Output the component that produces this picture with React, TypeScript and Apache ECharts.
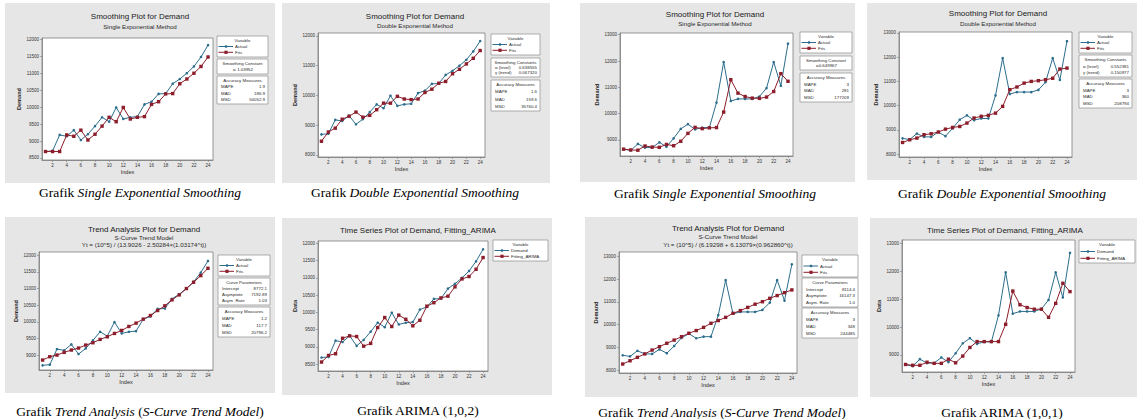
import React, { useEffect, useRef } from "react";
import * as echarts from "echarts";

// Period index shared by every panel
const periods = [1, 2, 3, 4, 5, 6, 7, 8, 9, 10, 11, 12, 13, 14, 15, 16, 17, 18, 19, 20, 21, 22, 23, 24];

// Left pair of studies: demand and the fitted values of each method
const demandLeft = [8690, 8710, 9180, 9140, 9320, 9030, 9200, 9440, 9700, 9570, 9990, 9650, 9700, 9720, 10080, 10160, 10390, 10400, 10690, 10830, 11000, 11200, 11480, 11830];
const singleFitsLeft = [8690, 8690, 8690, 9180, 9140, 9320, 9030, 9200, 9440, 9700, 9570, 9990, 9650, 9700, 9720, 10080, 10160, 10390, 10400, 10690, 10830, 11000, 11200, 11480];
const doubleFitsLeft = [8460, 8770, 8900, 9200, 9300, 9440, 9270, 9330, 9520, 9740, 9740, 9970, 9880, 9860, 9880, 10100, 10210, 10410, 10470, 10730, 10880, 11060, 11250, 11510];
const trendFitsLeft = [8850, 8950, 9000, 9080, 9150, 9210, 9300, 9370, 9470, 9550, 9650, 9740, 9860, 9960, 10080, 10190, 10340, 10480, 10660, 10810, 11000, 11190, 11390, 11610];
const arimaFitsLeft = [8560, 8750, 8800, 9250, 9320, 9300, 9020, 9100, 9560, 9850, 9590, 9920, 9800, 9610, 9770, 10180, 10280, 10420, 10470, 10740, 10970, 11040, 11250, 11590];

// Right pair of studies: demand and the fitted values of each method
const demandRight = [8650, 8600, 8850, 8710, 8710, 8910, 8740, 9060, 9420, 9600, 9400, 9470, 9470, 10420, 11960, 10480, 10560, 10560, 10560, 10650, 10970, 11960, 11060, 12660];
const singleFitsRight = [8650, 8620, 8610, 8770, 8730, 8720, 8830, 8780, 8950, 9250, 9480, 9430, 9460, 9470, 10060, 11290, 10780, 10650, 10590, 10580, 10630, 10840, 11520, 11230];
const doubleFitsRight = [8480, 8590, 8660, 8800, 8840, 8910, 9030, 9100, 9140, 9280, 9490, 9560, 9600, 9690, 9970, 10660, 10770, 10930, 11000, 11030, 11070, 11130, 11510, 11550];
const trendFitsRight = [8265, 8410, 8560, 8710, 8880, 9030, 9180, 9320, 9470, 9620, 9740, 9880, 10060, 10180, 10320, 10500, 10620, 10760, 10900, 11010, 11160, 11280, 11410, 11530];
const arimaFitsRight = [8660, 8630, 8630, 8740, 8700, 8700, 8850, 8720, 8960, 9270, 9480, 9480, 9480, 9480, 10100, 11290, 10800, 10700, 10640, 10640, 10350, 10850, 11570, 11270];

// Side tables: smoothing constants, curve parameters and accuracy measures
const smoothingSingleLeft = [["α", "1.03952"]];
const accuracySingleLeft = [["MAPE", "1.9"], ["MAD", "186.9"], ["MSD", "54052.9"]];
const smoothingDoubleLeft = [["α (level)", "0.638555"], ["γ (trend)", "0.067320"]];
const accuracyDoubleLeft = [["MAPE", "1.6"], ["MAD", "159.6"], ["MSD", "35760.4"]];
const curveLeft = [["Intercept", "8772.1"], ["Asymptote", "7192.89"], ["Asym. Rate", "1.03"]];
const accuracyTrendLeft = [["MAPE", "1.2"], ["MAD", "117.7"], ["MSD", "20796.2"]];
const smoothingSingleRight = [["α", "0.649967"]];
const accuracySingleRight = [["MAPE", "3"], ["MAD", "281"], ["MSD", "177209"]];
const smoothingDoubleRight = [["α (level)", "0.552381"], ["γ (trend)", "0.150977"]];
const accuracyDoubleRight = [["MAPE", "3"], ["MAD", "360"], ["MSD", "208794"]];
const curveRight = [["Intercept", "8114.4"], ["Asymptote", "16147.3"], ["Asym. Rate", "1.0"]];
const accuracyTrendRight = [["MAPE", "3"], ["MAD", "348"], ["MSD", "244485"]];

const SANS = '"Liberation Sans", Arial, sans-serif';
const SERIF = '"Liberation Serif", "Times New Roman", serif';
const PANEL_BG = "#e6e6e6";
const FRAME = "#7d7d7d";
const INK = "#2a2a2a";
const ACTUAL = "#2c6d8c";
const FITS = "#8c1d2b";
const X_RANGE = [0.5, 24.7];

type Rect = { x: number; y: number; w: number; h: number };
type Box = Rect & { header?: string; rows?: string[][]; legend?: boolean; inset?: number };
type Panel = {
  bg: Rect;
  grid: Rect;
  y: [number, number, number];
  yName: string;
  titleX: number;
  titles: [string, number, number][];
  actual: number[];
  fits: number[];
  names: [string, string];
  boxes: Box[];
  caption: { x: number; y: number; text: string };
};

const SMOOTH_TITLE = "Smoothing Plot for Demand";
const TREND_TITLE = "Trend Analysis Plot for Demand";
const ARIMA_TITLE = "Time Series Plot of Demand, Fitting_ARIMA";

const panels: Panel[] = [
  {
    bg: { x: 5, y: 3, w: 270, h: 180 },
    grid: { x: 42, y: 38, w: 171, h: 122 },
    y: [8440, 12040, 500],
    yName: "Demand",
    titleX: 140,
    titles: [[SMOOTH_TITLE, 16.5, 8], ["Single Exponential Method", 26.5, 6.2]],
    actual: demandLeft,
    fits: singleFitsLeft,
    names: ["Actual", "Fits"],
    boxes: [
      { x: 217, y: 36, w: 51, h: 21, header: "Variable", legend: true },
      { x: 217, y: 59, w: 51, h: 15, header: "Smoothing Constant", rows: smoothingSingleLeft, inset: 12 },
      { x: 217, y: 76, w: 51, h: 28, header: "Accuracy Measures", rows: accuracySingleLeft },
    ],
    caption: { x: 140, y: 192, text: "{n|Grafik }{i|Single Exponential Smoothing}" },
  },
  {
    bg: { x: 282, y: 3, w: 268, h: 180 },
    grid: { x: 318, y: 33, w: 167, h: 124 },
    y: [7930, 12100, 1000],
    yName: "Demand",
    titleX: 415,
    titles: [[SMOOTH_TITLE, 16, 8], ["Double Exponential Method", 25.5, 6.2]],
    actual: demandLeft,
    fits: doubleFitsLeft,
    names: ["Actual", "Fits"],
    boxes: [
      { x: 491, y: 34, w: 49, h: 21, header: "Variable", legend: true },
      { x: 491, y: 58, w: 49, h: 19, header: "Smoothing Constants", rows: smoothingDoubleLeft },
      { x: 491, y: 80, w: 49, h: 31, header: "Accuracy Measures", rows: accuracyDoubleLeft },
    ],
    caption: { x: 415, y: 192, text: "{n|Grafik }{i|Double Exponential Smoothing}" },
  },
  {
    bg: { x: 580, y: 3, w: 275, h: 179 },
    grid: { x: 620, y: 33, w: 173, h: 123 },
    y: [8390, 13065, 1000],
    yName: "Demand",
    titleX: 715,
    titles: [[SMOOTH_TITLE, 14, 8], ["Single Exponential Method", 23.5, 6.2]],
    actual: demandRight,
    fits: singleFitsRight,
    names: ["Actual", "Fits"],
    boxes: [
      { x: 800, y: 32, w: 52, h: 21, header: "Variable", legend: true },
      { x: 800, y: 56, w: 52, h: 14, header: "Smoothing Constant", rows: smoothingSingleRight, inset: 12 },
      { x: 800, y: 73, w: 52, h: 29, header: "Accuracy Measures", rows: accuracySingleRight },
    ],
    caption: { x: 715, y: 193, text: "{n|Grafik }{i|Single Exponential Smoothing}" },
  },
  {
    bg: { x: 867, y: 3, w: 270, h: 177 },
    grid: { x: 899, y: 32, w: 173, h: 125 },
    y: [7880, 13040, 1000],
    yName: "Demand",
    titleX: 998,
    titles: [[SMOOTH_TITLE, 13.5, 8], ["Double Exponential Method", 23.5, 6.2]],
    actual: demandRight,
    fits: doubleFitsRight,
    names: ["Actual", "Fits"],
    boxes: [
      { x: 1079, y: 32, w: 53, h: 21, header: "Variable", legend: true },
      { x: 1079, y: 55, w: 53, h: 22, header: "Smoothing Constants", rows: smoothingDoubleRight },
      { x: 1079, y: 79, w: 53, h: 29, header: "Accuracy Measures", rows: accuracyDoubleRight },
    ],
    caption: { x: 1002, y: 193, text: "{n|Grafik }{i|Double Exponential Smoothing}" },
  },
  {
    bg: { x: 5, y: 217, w: 270, h: 176 },
    grid: { x: 39, y: 252, w: 174, h: 118 },
    y: [8550, 12100, 500],
    yName: "Demand",
    titleX: 144,
    titles: [
      [TREND_TITLE, 229, 8],
      ["S-Curve Trend Model", 237, 6.2],
      ["Yt = (10^5) / (13.9026 - 2.50284×(1.03174^t))", 244.5, 6.2],
    ],
    actual: demandLeft,
    fits: trendFitsLeft,
    names: ["Actual", "Fits"],
    boxes: [
      { x: 218, y: 255, w: 52, h: 21, header: "Variable", legend: true },
      { x: 218, y: 278, w: 52, h: 27, header: "Curve Parameters", rows: curveLeft },
      { x: 218, y: 307, w: 52, h: 30, header: "Accuracy Measures", rows: accuracyTrendLeft },
    ],
    caption: { x: 140, y: 411, text: "{n|Grafik }{i|Trend Analysis}{n| (}{i|S-Curve Trend Model}{n|)}" },
  },
  {
    bg: { x: 282, y: 218, w: 270, h: 177 },
    grid: { x: 318, y: 241, w: 170, h: 130 },
    y: [8300, 12070, 500],
    yName: "Data",
    titleX: 418,
    titles: [[ARIMA_TITLE, 230, 8]],
    actual: demandLeft,
    fits: arimaFitsLeft,
    names: ["Demand", "Fitting_ARIMA"],
    boxes: [{ x: 493, y: 240, w: 55, h: 21, header: "Variable", legend: true }],
    caption: { x: 418, y: 410, text: "{n|Grafik ARIMA (1,0,2)}" },
  },
  {
    bg: { x: 585, y: 217, w: 273, h: 180 },
    grid: { x: 619, y: 252, w: 178, h: 121 },
    y: [7870, 13200, 1000],
    yName: "Demand",
    titleX: 728,
    titles: [
      [TREND_TITLE, 228, 8],
      ["S-Curve Trend Model", 236, 6.2],
      ["Yt = (10^5) / (6.19298 + 6.13079×(0.962860^t))", 244, 6.2],
    ],
    actual: demandRight,
    fits: trendFitsRight,
    names: ["Actual", "Fits"],
    boxes: [
      { x: 802, y: 255, w: 56, h: 22, header: "Variable", legend: true },
      { x: 802, y: 278, w: 56, h: 29, header: "Curve Parameters", rows: curveRight },
      { x: 802, y: 308, w: 56, h: 30, header: "Accuracy Measures", rows: accuracyTrendRight },
    ],
    caption: { x: 722, y: 412, text: "{n|Grafik }{i|Trend Analysis}{n| (}{i|S-Curve Trend Model}{n|)}" },
  },
  {
    bg: { x: 870, y: 218, w: 267, h: 179 },
    grid: { x: 902, y: 240, w: 173, h: 132 },
    y: [8390, 13120, 1000],
    yName: "Data",
    titleX: 1005,
    titles: [[ARIMA_TITLE, 230, 8]],
    actual: demandRight,
    fits: arimaFitsRight,
    names: ["Demand", "Fitting_ARIMA"],
    boxes: [{ x: 1079, y: 240, w: 56, h: 23, header: "Variable", legend: true }],
    caption: { x: 1002, y: 412, text: "{n|Grafik ARIMA (1,0,1)}" },
  },
];

const TABLE_FONT = 4.4;

function textEl(text: string, x: number, y: number, size: number, align: string, extra: any = {}) {
  return {
    type: "text",
    z: 20,
    silent: true,
    style: {
      text,
      x,
      y,
      textAlign: align,
      textVerticalAlign: "middle",
      fontSize: size,
      fontFamily: SANS,
      fill: INK,
      ...extra,
    },
  };
}

function boxElements(b: Box, names: [string, string]) {
  const els: any[] = [];
  els.push({
    type: "rect",
    z: 15,
    silent: true,
    shape: { x: b.x, y: b.y, width: b.w, height: b.h },
    style: { fill: "#ffffff", stroke: "#8c8c8c", lineWidth: 0.7 },
  });
  const n = b.legend ? 2 : (b.rows || []).length;
  const step = (b.h - 9.4) / n;
  const headerY = b.y + 4.7;
  if (b.header) els.push(textEl(b.header, b.x + b.w / 2, headerY, TABLE_FONT, "center"));
  if (b.legend) {
    const colors = [ACTUAL, FITS];
    names.forEach((name, k) => {
      const cy = headerY + step * (k + 1);
      els.push({
        type: "line",
        z: 20,
        silent: true,
        shape: { x1: b.x + 1.5, y1: cy, x2: b.x + 16, y2: cy },
        style: { stroke: colors[k], lineWidth: 1 },
      });
      if (k === 0) {
        els.push({
          type: "circle",
          z: 21,
          silent: true,
          shape: { cx: b.x + 9, cy, r: 1.3 },
          style: { fill: colors[k] },
        });
      } else {
        els.push({
          type: "rect",
          z: 21,
          silent: true,
          shape: { x: b.x + 7.4, y: cy - 1.6, width: 3.2, height: 3.2 },
          style: { fill: colors[k] },
        });
      }
      els.push(textEl(name, b.x + 18, cy, TABLE_FONT, "left"));
    });
  } else {
    const inset = b.inset ?? 0;
    (b.rows || []).forEach((row, k) => {
      const cy = headerY + step * (k + 1);
      els.push(textEl(row[0], b.x + 4 + inset, cy, TABLE_FONT, "left"));
      els.push(textEl(row[1], b.x + b.w - 3 - inset, cy, TABLE_FONT, "right"));
    });
  }
  return els;
}

function buildOption() {
  const grid: any[] = [];
  const xAxis: any[] = [];
  const yAxis: any[] = [];
  const series: any[] = [];
  const graphic: any[] = [];

  panels.forEach((p, i) => {
    graphic.push({
      type: "rect",
      z: -10,
      silent: true,
      shape: { x: p.bg.x, y: p.bg.y, width: p.bg.w, height: p.bg.h },
      style: { fill: PANEL_BG },
    });

    grid.push({
      left: p.grid.x,
      top: p.grid.y,
      width: p.grid.w,
      height: p.grid.h,
      show: true,
      backgroundColor: "#ffffff",
      borderColor: FRAME,
      borderWidth: 0.8,
    });

    const axisCommon = {
      gridIndex: i,
      type: "value",
      nameLocation: "middle",
      nameTextStyle: { fontSize: 5.6, fontFamily: SANS, color: INK, fontWeight: "bold" },
      axisLine: { show: true, lineStyle: { color: FRAME, width: 0.8 } },
      axisTick: { show: true, length: 2, lineStyle: { color: FRAME, width: 0.6 } },
      splitLine: { show: false },
    };

    xAxis.push({
      ...axisCommon,
      min: X_RANGE[0],
      max: X_RANGE[1],
      minInterval: 2,
      maxInterval: 2,
      name: "Index",
      nameGap: 9,
      nameTextStyle: { fontSize: 5.6, fontFamily: SANS, color: INK },
      axisLabel: {
        fontSize: 4.5,
        fontFamily: SANS,
        color: "#333",
        margin: 2.5,
        showMinLabel: false,
        showMaxLabel: false,
      },
    });

    yAxis.push({
      ...axisCommon,
      min: p.y[0],
      max: p.y[1],
      minInterval: p.y[2],
      maxInterval: p.y[2],
      name: p.yName,
      nameGap: 20,
      axisLabel: {
        fontSize: 4.5,
        fontFamily: SANS,
        color: "#333",
        margin: 3,
        showMinLabel: false,
        showMaxLabel: false,
        formatter: (v: number) => String(v),
      },
    });

    series.push({
      type: "line",
      name: p.names[0],
      xAxisIndex: i,
      yAxisIndex: i,
      data: periods.map((t, k) => [t, p.actual[k]]),
      symbol: "circle",
      symbolSize: 2.6,
      showAllSymbol: true,
      lineStyle: { color: ACTUAL, width: 1 },
      itemStyle: { color: ACTUAL },
      silent: true,
      z: 3,
    });
    series.push({
      type: "line",
      name: p.names[1],
      xAxisIndex: i,
      yAxisIndex: i,
      data: periods.map((t, k) => [t, p.fits[k]]),
      symbol: "rect",
      symbolSize: 3.4,
      showAllSymbol: true,
      lineStyle: { color: FITS, width: 1 },
      itemStyle: { color: FITS },
      silent: true,
      z: 4,
    });

    p.titles.forEach(([text, y, size], k) => {
      graphic.push(textEl(text, p.titleX, y, size, "center", k === 0 ? { fill: "#1a1a1a" } : {}));
    });

    p.boxes.forEach((b) => graphic.push(...boxElements(b, p.names)));

    graphic.push({
      type: "text",
      z: 20,
      silent: true,
      style: {
        text: p.caption.text,
        x: p.caption.x,
        y: p.caption.y,
        textAlign: "center",
        textVerticalAlign: "middle",
        rich: {
          n: { fontSize: 13.5, fontFamily: SERIF, color: "#1e1e1e" },
          i: { fontSize: 13.5, fontFamily: SERIF, fontStyle: "italic", color: "#1e1e1e" },
        },
      },
    });
  });

  return {
    animation: false,
    backgroundColor: "#ffffff",
    grid,
    xAxis,
    yAxis,
    series,
    graphic: { elements: graphic },
  };
}

export default function App() {
  const ref = useRef<HTMLDivElement>(null);

  useEffect(() => {
    if (!ref.current) return;
    const chart = echarts.init(ref.current, null, { renderer: "svg" });
    chart.setOption(buildOption() as any);
    return () => chart.dispose();
  }, []);

  return (
    <div
      ref={ref}
      style={{ position: "absolute", left: 0, top: 0, width: 1137, height: 419, background: "#fff" }}
    />
  );
}
